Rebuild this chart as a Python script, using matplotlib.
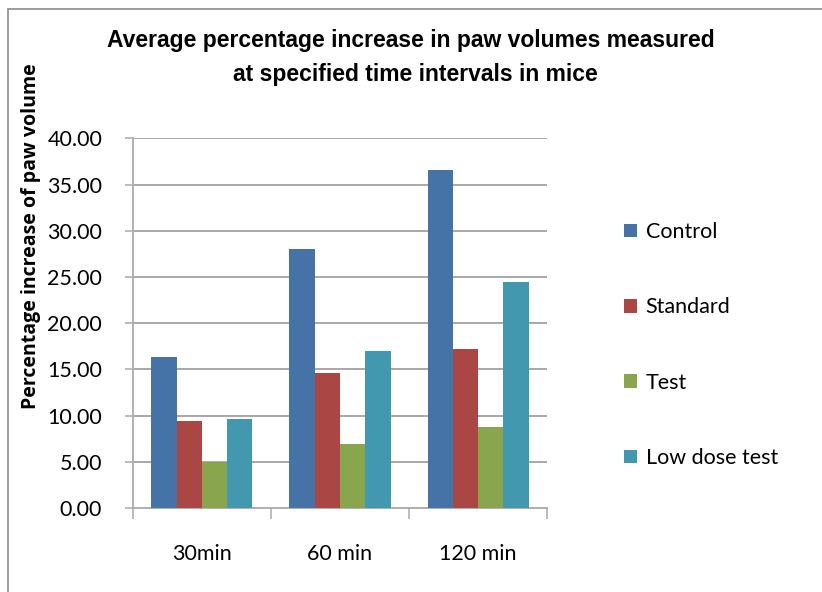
import matplotlib
matplotlib.use("Agg")
import matplotlib.pyplot as plt
import numpy as np
from matplotlib.patches import Rectangle

categories = ["30min", "60 min", "120 min"]
series_names = ["Control", "Standard", "Test", "Low dose test"]
control = [16.3, 28.0, 36.55]
standard = [9.45, 14.65, 17.15]
test = [4.95, 6.95, 8.8]
low_dose = [9.65, 16.95, 24.4]
y_ticks = [0, 5, 10, 15, 20, 25, 30, 35, 40]

colors = ["#4572A7", "#AA4643", "#89A54E", "#4198AF"]

title_font = "Liberation Sans"
body_font = "Lato"

W, H = 822, 592
fig = plt.figure(figsize=(W / 100, H / 100), dpi=100)

def fx(px):
    return px / W

def fy(py):
    return 1 - py / H

# chart frame
fig.patches.append(Rectangle((fx(8), fy(H + 20)), 1.2, fy(9) - fy(H + 20),
                             transform=fig.transFigure, fill=False,
                             edgecolor="#8c8c8c", linewidth=1.2))

left, right, top, bottom = 132.7, 547.3, 138.3, 508.0
ax = fig.add_axes([fx(left), fy(bottom), fx(right) - fx(left), fy(top) - fy(bottom)])

series = [control, standard, test, low_dose]
x = np.arange(len(categories))
bw = 0.183
for i, (vals, name, c) in enumerate(zip(series, series_names, colors)):
    ax.bar(x + (i - 1.5) * bw, vals, width=bw, color=c, label=name, zorder=3)

ax.set_xlim(-0.5, len(categories) - 0.5)
ax.set_ylim(0, 40)
ax.set_yticks(y_ticks)
ax.set_yticklabels([f"{v:.2f}" for v in y_ticks], fontfamily=body_font, fontsize=15.5)
ax.yaxis.grid(True, color="#9a9a9a", linewidth=1.2, zorder=0)
ax.set_axisbelow(True)

ax.set_xticks(x)
ax.set_xticklabels(categories, fontfamily=body_font, fontsize=15.5)
ax.tick_params(axis="x", which="major", length=0, pad=26)
ax.set_xticks(np.arange(-0.5, len(categories)), minor=True)
ax.tick_params(axis="x", which="minor", length=8, width=1.2, color="#b0b0b0", direction="out")
ax.tick_params(axis="y", length=6, width=1.2, color="#b0b0b0", pad=16)

for s in ["top", "right"]:
    ax.spines[s].set_visible(False)
for s in ["left", "bottom"]:
    ax.spines[s].set_color("#b0b0b0")
    ax.spines[s].set_linewidth(1.4)

fig.text(fx(411), fy(40), "Average percentage increase in paw volumes measured",
         ha="center", va="center", fontfamily=title_font, fontweight="bold", fontsize=16.5)
fig.text(fx(415), fy(75), "at specified time intervals in mice",
         ha="center", va="center", fontfamily=title_font, fontweight="bold", fontsize=16.5)

fig.text(fx(31), fy(236), "Percentage increase of paw volume", rotation=90,
         ha="center", va="center", fontfamily="Open Sans", fontweight="bold", fontsize=14)

ax.legend(loc="upper left", bbox_to_anchor=(fx(624), fy(222)), bbox_transform=fig.transFigure,
          frameon=False, prop={"family": body_font, "size": 15.5},
          handlelength=0.6, handleheight=0.6, handletextpad=0.4, labelspacing=2.57,
          borderaxespad=0, borderpad=0)

fig.savefig("out.png", dpi=100, facecolor="white")
